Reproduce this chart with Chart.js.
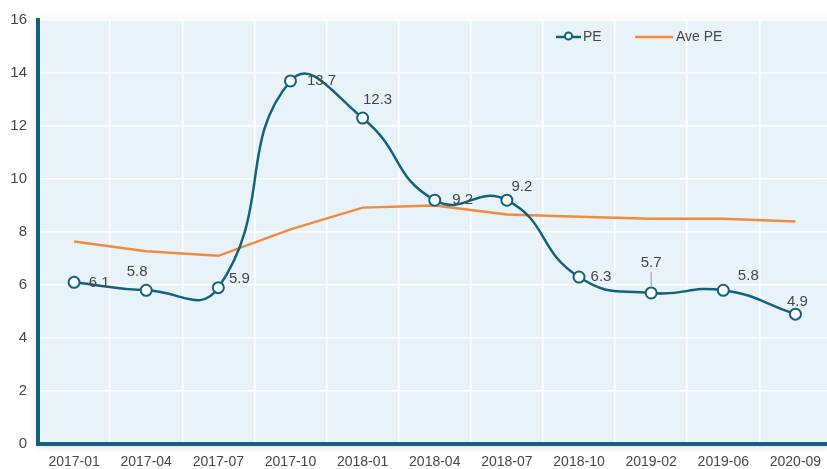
<!DOCTYPE html>
<html>
<head>
<meta charset="utf-8">
<script src="https://cdn.jsdelivr.net/npm/chart.js@4/dist/chart.umd.min.js"></script>
<style>
html,body{margin:0;padding:0;background:#fff;overflow:hidden;}
#wrap{position:relative;width:839px;height:469px;}
</style>
</head>
<body>
<div id="wrap"><canvas id="c"></canvas></div>
<script>
const categories = ['2017-01','2017-04','2017-07','2017-10','2018-01','2018-04','2018-07','2018-10','2019-02','2019-06','2020-09'];
const peValues = [6.1, 5.8, 5.9, 13.7, 12.3, 9.2, 9.2, 6.3, 5.7, 5.8, 4.9];
const avePeValues = [7.64, 7.27, 7.1, 8.1, 8.92, 9.0, 8.66, 8.58, 8.5, 8.5, 8.4];
const yTicks = [0, 2, 4, 6, 8, 10, 12, 14, 16];

const TEAL = '#12627f';
const ORANGE = '#f08a3c';
const TXT = '#474747';
const FONT = '"Liberation Sans", Arial, sans-serif';

// label offsets (style only): [dx, dy] from the point
const labelOffsets = [[25,1],[-9,-18],[21,-9],[31,0],[15,-18],[28,0],[15,-13],[22,0],[0,-30],[25,-14],[2,-12]];

const bgPlugin = {
  id: 'bg',
  beforeDraw(chart) {
    const {ctx, chartArea: a} = chart;
    ctx.save();
    ctx.shadowColor = 'rgba(0,0,0,0.18)';
    ctx.shadowBlur = 8;
    ctx.shadowOffsetY = 2;
    ctx.fillStyle = '#e8f3f9';
    ctx.fillRect(a.left, a.top, a.right - a.left, a.bottom - a.top);
    ctx.restore();
  }
};

const labelPlugin = {
  id: 'labels',
  afterDatasetsDraw(chart) {
    const {ctx} = chart;
    const meta = chart.getDatasetMeta(0);
    ctx.save();
    ctx.font = '15px ' + FONT;
    ctx.fillStyle = TXT;
    ctx.textAlign = 'center';
    ctx.textBaseline = 'middle';
    meta.data.forEach((pt, i) => {
      const [dx, dy] = labelOffsets[i];
      if (Math.abs(dy) > 25) {
        ctx.strokeStyle = '#999';
        ctx.lineWidth = 1;
        ctx.beginPath();
        ctx.moveTo(pt.x, pt.y + dy + 9);
        ctx.lineTo(pt.x, pt.y - 7);
        ctx.stroke();
      }
      ctx.fillText(String(peValues[i]), pt.x + dx, pt.y + dy);
    });
    ctx.restore();
  },
  afterDraw(chart) {
    const {ctx} = chart;
    ctx.save();
    const y = 37;
    ctx.strokeStyle = TEAL;
    ctx.lineWidth = 2.5;
    ctx.beginPath(); ctx.moveTo(556, y); ctx.lineTo(581, y); ctx.stroke();
    ctx.fillStyle = '#fff';
    ctx.lineWidth = 2;
    ctx.beginPath(); ctx.arc(568.5, y - 1, 3.5, 0, Math.PI * 2); ctx.fill(); ctx.stroke();
    ctx.font = '14px ' + FONT;
    ctx.fillStyle = TXT;
    ctx.textAlign = 'left';
    ctx.textBaseline = 'middle';
    ctx.fillText('PE', 583, y);
    ctx.strokeStyle = ORANGE;
    ctx.lineWidth = 2.5;
    ctx.beginPath(); ctx.moveTo(635, y); ctx.lineTo(673, y); ctx.stroke();
    ctx.fillText('Ave PE', 676, y);
    ctx.restore();
  }
};

new Chart(document.getElementById('c'), {
  type: 'line',
  data: {
    labels: categories,
    datasets: [
      {
        label: 'PE',
        data: peValues,
        borderColor: TEAL,
        borderWidth: 2.5,
        tension: 0.5,
        pointRadius: 5.5,
        pointBorderWidth: 2,
        pointBackgroundColor: '#fff',
        pointBorderColor: TEAL,
        order: 0
      },
      {
        label: 'Ave PE',
        data: avePeValues,
        borderColor: ORANGE,
        borderWidth: 2.5,
        tension: 0,
        pointRadius: 0,
        order: 1
      }
    ]
  },
  options: {
    responsive: true,
    maintainAspectRatio: false,
    animation: false,
    layout: {padding: {top: 18, right: 0, left: 0, bottom: 0}},
    plugins: {legend: {display: false}, tooltip: {enabled: false}},
    scales: {
      x: {
        offset: true,
        grid: {offset: true, color: '#ffffff', lineWidth: 1.5, drawTicks: false},
        border: {color: TEAL, width: 4},
        ticks: {color: TXT, font: {family: FONT, size: 14}, padding: 10, maxRotation: 0, autoSkip: false},
        afterFit(s) { s.height = 25; }
      },
      y: {
        min: 0, max: 16,
        afterBuildTicks(s) { s.ticks = yTicks.map(v => ({value: v})); },
        grid: {color: '#ffffff', lineWidth: 1.5, drawTicks: false},
        border: {color: TEAL, width: 4},
        ticks: {color: TXT, font: {family: FONT, size: 15}, padding: 11},
        afterFit(s) { s.width = 38; }
      }
    }
  },
  plugins: [bgPlugin, labelPlugin]
});
</script>
</body>
</html>
